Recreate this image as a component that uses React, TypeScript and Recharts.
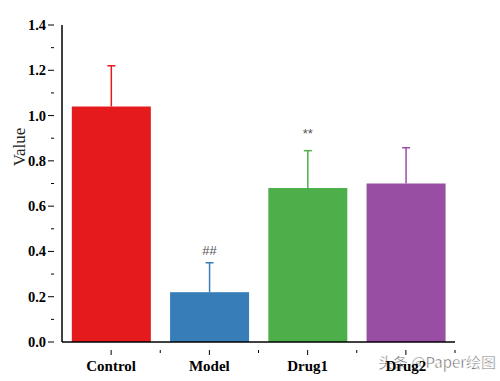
import { BarChart, Bar, XAxis, YAxis, Cell } from 'recharts'

const groups = ['Control', 'Model', 'Drug1', 'Drug2']
const means = [1.04, 0.22, 0.68, 0.70]
const sds = [0.18, 0.13, 0.165, 0.158]
const marks = ['', '##', '**', '']
const colors = ['#e41a1c', '#377eb8', '#4daf4a', '#984ea3']
const yTicks = [0, 0.1, 0.2, 0.3, 0.4, 0.5, 0.6, 0.7, 0.8, 0.9, 1.0, 1.1, 1.2, 1.3, 1.4]

const data = groups.map((g, i) => ({ group: g, mean: means[i], sd: sds[i], mark: marks[i] }))

const serif = '"Liberation Serif", "Times New Roman", serif'

function BarWithError(props: any) {
  const { x, y, width, height, fill, payload, value } = props
  const v = Array.isArray(value) ? value[1] : value
  const perUnit = v ? height / v : 0
  const cx = x + width / 2
  const top = y - payload.sd * perUnit
  const markY = payload.mark === '**' ? top - 13 : top - 8
  return (
    <g>
      <rect x={x} y={y} width={width} height={height} fill={fill} />
      <line x1={cx} y1={y} x2={cx} y2={top} stroke={fill} strokeWidth={1.5} />
      <line x1={cx - 4} y1={top} x2={cx + 4} y2={top} stroke={fill} strokeWidth={1.5} />
      {payload.mark ? (
        <text x={cx} y={markY} textAnchor="middle" fontSize={13} fill="#555" fontFamily="Arial, sans-serif">
          {payload.mark}
        </text>
      ) : null}
    </g>
  )
}

function YTick(props: any) {
  const { x, y, payload } = props
  const v = payload.value
  const major = Math.round(v * 10) % 2 === 0
  return (
    <g>
      <line x1={x} y1={y} x2={x - (major ? 6 : 3)} y2={y} stroke="#000" strokeWidth={1} />
      {major ? (
        <text x={x - 8} y={y} dy={5} textAnchor="end" fontSize={14.5} fontWeight="bold" fontFamily={serif} fill="#000">
          {v.toFixed(1)}
        </text>
      ) : null}
    </g>
  )
}

function XTick(props: any) {
  const { x, y, payload, width } = props
  const half = width / groups.length / 2
  return (
    <g>
      <line x1={x} y1={y} x2={x} y2={y + 5} stroke="#000" />
      <line x1={x + half} y1={y} x2={x + half} y2={y + 3} stroke="#000" />
      <text x={x} y={y + 21} textAnchor="middle" fontSize={15} fontWeight="bold" fontFamily={serif} fill="#000">
        {payload.value}
      </text>
    </g>
  )
}

export default function App() {
  return (
    <div style={{ position: 'absolute', left: 0, top: 0, width: 500, height: 381, background: '#fff' }}>
      <BarChart
        width={500}
        height={381}
        data={data}
        margin={{ top: 25, right: 45, bottom: 9, left: 0 }}
        barCategoryGap="10%"
      >
        <XAxis
          dataKey="group"
          interval={0}
          height={30}
          axisLine={{ stroke: '#000', strokeWidth: 1.5 }}
          tickLine={false}
          tick={<XTick />}
        />
        <YAxis
          width={62}
          domain={[0, 1.4]}
          ticks={yTicks}
          interval={0}
          axisLine={{ stroke: '#000', strokeWidth: 1.5 }}
          tickLine={false}
          tick={<YTick />}
        />
        <Bar dataKey="mean" isAnimationActive={false} shape={<BarWithError />}>
          {data.map((d, i) => (
            <Cell key={d.group} fill={colors[i]} />
          ))}
        </Bar>
        <text
          x={19}
          y={147}
          transform="rotate(-90 19 147)"
          textAnchor="middle"
          dominantBaseline="central"
          fontSize={17}
          fontFamily={serif}
          fill="#222"
        >
          Value
        </text>
        <text
          x={437}
          y={368}
          textAnchor="middle"
          fontSize={15}
          fontFamily='"Noto Sans CJK SC", sans-serif'
          fill="#555"
          stroke="#fff"
          strokeWidth={0.5}
        >
          头条 @Paper绘图
        </text>
      </BarChart>
    </div>
  )
}
